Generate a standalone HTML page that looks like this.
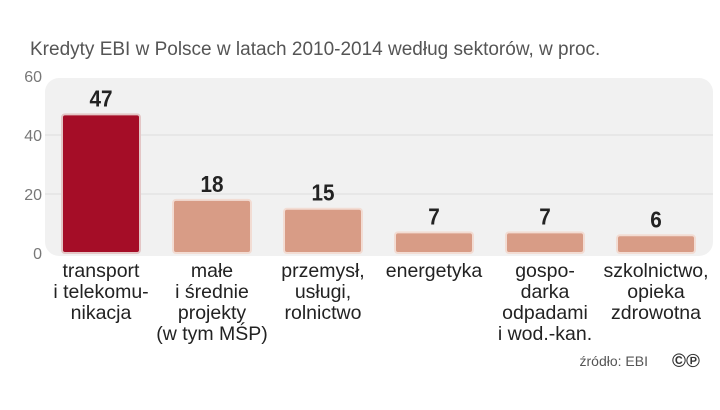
<!DOCTYPE html>
<html><head><meta charset="utf-8"><style>
body{margin:0;background:#fff;width:720px;height:405px;overflow:hidden;font-family:"Liberation Sans",sans-serif}
</style></head><body>
<svg width="720" height="405">
<text x="30" y="55" font-size="19" fill="#555">Kredyty EBI w Polsce w latach 2010-2014 według sektorów, w proc.</text>
<rect x="45" y="78" width="668" height="178" rx="14" fill="#f1f1f1"/>
<g id="grid"></g><g id="bars"></g><g id="labels"></g>
<text x="648" y="366" font-size="14" fill="#555" text-anchor="end">źródło: EBI</text>
<text x="686" y="367" font-size="19" font-weight="bold" fill="#333" text-anchor="middle">©℗</text>
</svg>
<script>
const categories=[["transport","i telekomu-","nikacja"],["małe","i średnie","projekty","(w tym MŚP)"],["przemysł,","usługi,","rolnictwo"],["energetyka"],["gospo-","darka","odpadami","i wod.-kan."],["szkolnictwo,","opieka","zdrowotna"]];
const values=[47,18,15,7,7,6];
const ticks=[0,20,40,60];
const NS="http://www.w3.org/2000/svg";
const y=v=>253-v*(177/60);
const cx=i=>101+i*111;
function mk(t,a,p){const e=document.createElementNS(NS,t);for(const k in a)e.setAttribute(k,a[k]);p.appendChild(e);return e;}
const g=document.getElementById('grid'),b=document.getElementById('bars'),l=document.getElementById('labels');
ticks.forEach(t=>{
 if(t>0&&t<60){const ln=mk('line',{x1:45,x2:713,y1:y(t),y2:y(t),stroke:'#ddd','stroke-width':1},g);
 
 }
 const tx=mk('text',{x:42,y:y(t)+6,'font-size':16,fill:'#777','text-anchor':'end'},g);tx.textContent=t;
 
 
});
values.forEach((v,i)=>{
 const r=mk('rect',{x:cx(i)-39,y:y(v),width:78,height:y(0)-y(v),rx:3,fill:i==0?'#a50d27':'#d89c86',stroke:i==0?'#e4c6c6':'#f2dcd3','stroke-width':2},b);
 
 
 const t=mk('text',{x:cx(i),y:y(v)-8,'font-size':23,'font-weight':'bold',fill:'#222','text-anchor':'middle',transform:'translate('+cx(i)+',0) scale(0.9,1) translate('+(-cx(i))+',0)'},b);t.textContent=v;
 
 
 categories[i].forEach((s,j)=>{
  const c=mk('text',{x:cx(i),y:277+j*21,'font-size':19.5,fill:'#222','text-anchor':'middle'},l);c.textContent=s;
  
  
 });
});
</script>
</body></html>
